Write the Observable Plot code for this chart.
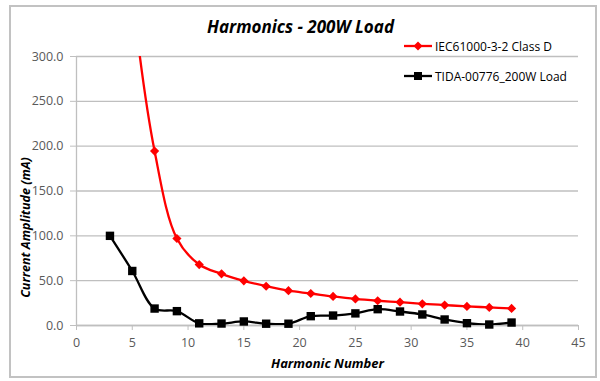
<!DOCTYPE html>
<html>
<head>
<meta charset="utf-8">
<script src="https://cdn.jsdelivr.net/npm/d3@7"></script>
<script src="https://cdn.jsdelivr.net/npm/@observablehq/plot@0.6"></script>
<style>
  html, body { margin: 0; padding: 0; background: #fff; }
  #wrap { position: relative; width: 600px; height: 381px; overflow: hidden; font-family: "Open Sans", sans-serif; }
  #frame { position: absolute; left: 9px; top: 5px; width: 584px; height: 369px; border: 2px solid #c2c2c2; box-sizing: content-box; pointer-events: none; }
  #legend { position: absolute; left: 404px; top: 37px; font-size: 12px; color: #000; }
  .item { display: flex; align-items: center; height: 18px; margin-bottom: 12px; }
  .item svg { margin-right: 3px; }
  svg.plot text { font-family: "Open Sans", sans-serif; }
  g[aria-label="x-axis tick label"] text, g[aria-label="y-axis tick label"] text { fill: #595959; }
</style>
</head>
<body>
<div id="wrap"></div>
<script>
const harmonics = [3, 5, 7, 9, 11, 13, 15, 17, 19, 21, 23, 25, 27, 29, 31, 33, 35, 37, 39];
const iecClassD = [663, 370, 194.5, 97, 68, 57.6, 49.8, 43.8, 38.8, 35.7, 32.4, 29.6, 27.6, 26.0, 24.2, 22.8, 21.3, 20.2, 19.0];
const tida200W = [100, 60.8, 18.9, 16.0, 2.4, 2.2, 4.5, 2.0, 2.0, 10.4, 11.1, 13.5, 18.2, 15.6, 12.3, 6.7, 2.6, 1.1, 3.3];
const seriesNames = ["IEC61000-3-2 Class D", "TIDA-00776_200W Load"];
const seriesColors = ["#ff0000", "#000000"];
const xTicks = [0, 5, 10, 15, 20, 25, 30, 35, 40, 45];
const yTicks = [0, 50, 100, 150, 200, 250, 300];
const titleText = "Harmonics - 200W Load";
const xTitle = "Harmonic Number";
const yTitle = "Current Amplitude (mA)";

const iecData = harmonics.map((h, i) => ({h, v: iecClassD[i]}));
const tidaData = harmonics.map((h, i) => ({h, v: tida200W[i]}));

const diamond = {draw(ctx, size) { const r = Math.sqrt(size / Math.PI); ctx.moveTo(0, -r); ctx.lineTo(r, 0); ctx.lineTo(0, r); ctx.lineTo(-r, 0); ctx.closePath(); }};
const square = {draw(ctx, size) { const r = Math.sqrt(size / Math.PI); ctx.rect(-r, -r, 2 * r, 2 * r); }};

const plot = Plot.plot({
  width: 600,
  height: 381,
  marginLeft: 76,
  marginRight: 22,
  marginTop: 56,
  marginBottom: 56,
  x: {domain: [0, 45]},
  y: {domain: [0, 300]},
  marks: [
    Plot.gridY(yTicks, {stroke: "#bfbfbf", strokeOpacity: 1, strokeWidth: 1.3}),
    Plot.ruleX([0], {stroke: "#bfbfbf", strokeWidth: 1.3}),
    Plot.ruleY([0], {stroke: "#bfbfbf", strokeWidth: 1.3}),
    Plot.axisY(yTicks, {tickSize: 6, stroke: "#bfbfbf", tickFormat: d3.format(".1f"), fontSize: 12.5, tickPadding: 7, label: null}),
    Plot.axisX(xTicks, {tickSize: 5, stroke: "#bfbfbf", fontSize: 12.5, tickPadding: 8, label: null}),
    Plot.line(iecData, {x: "h", y: "v", stroke: seriesColors[0], strokeWidth: 2.3, curve: "catmull-rom", clip: true}),
    Plot.dot(iecData, {x: "h", y: "v", fill: seriesColors[0], stroke: null, symbol: diamond, r: 4.6, clip: true}),
    Plot.line(tidaData, {x: "h", y: "v", stroke: seriesColors[1], strokeWidth: 2.3, curve: "catmull-rom", clip: true}),
    Plot.dot(tidaData, {x: "h", y: "v", fill: seriesColors[1], stroke: null, symbol: square, r: 4.2}),
    Plot.text([titleText], {frameAnchor: "top", lineAnchor: "middle", dx: -27, dy: -29, fontSize: 17, fontWeight: "bold", fontStyle: "italic", fill: "#000"}),
    Plot.text([xTitle], {frameAnchor: "bottom", lineAnchor: "middle", dy: 38, fontSize: 13, fontWeight: "bold", fontStyle: "italic", fill: "#000"}),
    Plot.text([yTitle], {frameAnchor: "left", textAnchor: "middle", lineAnchor: "middle", rotate: -90, dx: -51, dy: 36.5, fontSize: 12.5, fontWeight: "bold", fontStyle: "italic", fill: "#000"})
  ]
});
plot.classList.add("plot");
const wrap = document.getElementById("wrap");
wrap.appendChild(plot);

const frame = document.createElement("div");
frame.id = "frame";
wrap.appendChild(frame);

const legend = document.createElement("div");
legend.id = "legend";
seriesNames.forEach((name, i) => {
  const item = document.createElement("div");
  item.className = "item";
  const sym = i === 0
    ? `<path d="M14,4.5 L18.5,9 L14,13.5 L9.5,9Z" fill="${seriesColors[i]}"/>`
    : `<rect x="10" y="5" width="8" height="8" fill="${seriesColors[i]}"/>`;
  item.innerHTML = `<svg width="28" height="18"><line x1="0" x2="28" y1="9" y2="9" stroke="${seriesColors[i]}" stroke-width="2.3"/>${sym}</svg><span>${name}</span>`;
  legend.appendChild(item);
});
wrap.appendChild(legend);
</script>
</body>
</html>
